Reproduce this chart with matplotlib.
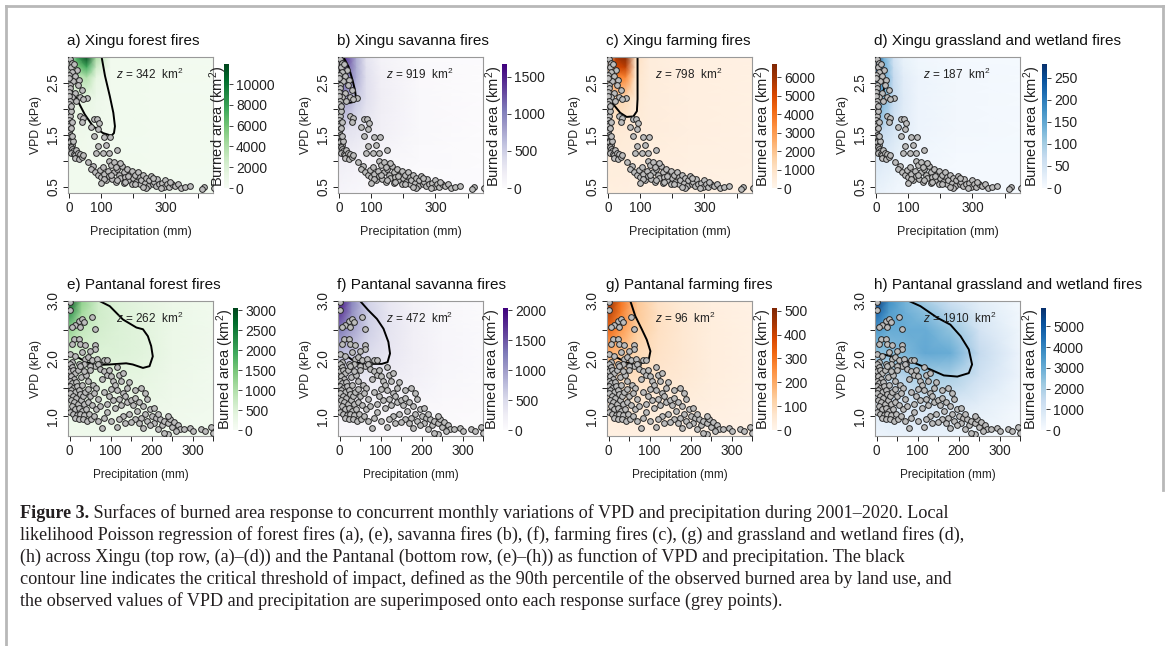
import numpy as np
import matplotlib.pyplot as plt
from matplotlib.lines import Line2D

plt.rcParams['font.family'] = ['Liberation Sans', 'DejaVu Sans']
plt.rcParams['mathtext.fontset'] = 'custom'
plt.rcParams['mathtext.rm'] = 'Liberation Sans'
plt.rcParams['mathtext.it'] = 'Liberation Sans:italic'

W, H = 1170, 646

# panel text
titles = ['a) Xingu forest fires', 'b) Xingu savanna fires', 'c) Xingu farming fires',
          'd) Xingu grassland and wetland fires', 'e) Pantanal forest fires',
          'f) Pantanal savanna fires', 'g) Pantanal farming fires',
          'h) Pantanal grassland and wetland fires']
z_values = [342, 919, 798, 187, 262, 472, 96, 1910]
cmaps = ['Greens', 'Purples', 'Oranges', 'Blues'] * 2
cbar_max = [11950, 1673, 6710, 281, 3058, 2040, 511, 5888]
cbar_ticks = [[0, 2000, 4000, 6000, 8000, 10000], [0, 500, 1000, 1500],
              [0, 1000, 2000, 3000, 4000, 5000, 6000], [0, 50, 100, 150, 200, 250],
              [0, 500, 1000, 1500, 2000, 2500, 3000], [0, 500, 1000, 1500, 2000],
              [0, 100, 200, 300, 400, 500], [0, 1000, 2000, 3000, 4000, 5000]]

# observed monthly points (precipitation mm, VPD kPa)
xingu_points = [
    (3, 2.95), (8, 2.88), (5, 2.80), (15, 2.85), (25, 2.75), (10, 2.70), (20, 2.62), (30, 2.55),
    (12, 2.52), (4, 2.45), (28, 2.45), (40, 2.35), (18, 2.30), (8, 2.22), (35, 2.22), (55, 2.20),
    (45, 2.18), (22, 2.15),
    (0, 2.65), (1, 2.58), (2, 2.40), (0, 2.32), (1, 2.25), (3, 2.15), (0, 2.08), (2, 2.00),
    (1, 1.92), (4, 1.85), (0, 1.78), (2, 1.72), (1, 1.66), (3, 1.60), (0, 1.55), (4, 1.50),
    (2, 1.45), (6, 1.40), (3, 1.35), (8, 1.30), (5, 1.26), (10, 1.22), (12, 1.18), (7, 1.15),
    (15, 1.12), (20, 1.10), (25, 1.08), (18, 1.05), (30, 1.03), (22, 1.20), (28, 1.15), (35, 1.12),
    (40, 1.08), (45, 1.10), (14, 1.38), (10, 1.48), (6, 1.62), (9, 1.75), (5, 1.95), (7, 2.05),
    (35, 1.85), (45, 1.82), (40, 1.75), (78, 1.80), (88, 1.80), (92, 1.72), (70, 1.65), (90, 1.60),
    (78, 1.48), (108, 1.45), (128, 1.45), (115, 1.30), (90, 1.28), (85, 1.15), (105, 1.15),
    (125, 1.15), (150, 1.20), (125, 1.00), (60, 0.98), (75, 0.90),
    (70, 0.85), (80, 0.78), (90, 0.72), (95, 0.82), (100, 0.68), (105, 0.88), (110, 0.75),
    (115, 0.62), (120, 0.80), (125, 0.70), (130, 0.92), (135, 0.65), (140, 0.98), (140, 0.78),
    (145, 0.60), (150, 0.85), (155, 0.72), (160, 0.66), (165, 0.90), (170, 0.58), (170, 0.78),
    (175, 0.68), (180, 0.85), (185, 0.62), (190, 0.74), (195, 0.55), (195, 0.80), (200, 0.66),
    (205, 0.72), (210, 0.60), (215, 0.78), (220, 0.55), (220, 0.68), (225, 0.62), (230, 0.72),
    (235, 0.58), (240, 0.66), (245, 0.52), (250, 0.62), (255, 0.70), (260, 0.56), (265, 0.60),
    (270, 0.52), (275, 0.64), (280, 0.55), (290, 0.58), (295, 0.50), (300, 0.62), (305, 0.55),
    (310, 0.50), (320, 0.56), (330, 0.52), (340, 0.55), (350, 0.48), (360, 0.50), (375, 0.52),
    (420, 0.50), (415, 0.46), (450, 0.48), (240, 0.48), (185, 0.70), (160, 0.95), (150, 0.62),
    (130, 0.72), (110, 0.65), (100, 0.58), (145, 0.88), (175, 0.60), (205, 0.56), (230, 0.50),
    (260, 0.66), (285, 0.48), (315, 0.60)]

pantanal_points = [
    (2, 2.98), (2, 2.84), (22, 2.66), (30, 2.69), (14, 2.58), (6, 2.55), (26, 2.55), (54, 2.72),
    (63, 2.52), (34, 2.63), (10, 2.34), (6, 2.26), (22, 2.34), (26, 2.26), (38, 2.23), (63, 2.23),
    (63, 2.17), (50, 2.14), (2, 2.08), (14, 2.05), (30, 2.11),
    (38, 2.00), (46, 2.03), (54, 1.97), (67, 2.00), (83, 1.97), (91, 1.97), (71, 1.91), (63, 1.88),
    (50, 1.88), (34, 1.91), (22, 1.91), (6, 1.94),
    (2, 1.90), (5, 1.85), (0, 1.78), (8, 1.80), (12, 1.75), (3, 1.70), (10, 1.65), (0, 1.62),
    (6, 1.58), (15, 1.60), (2, 1.52), (9, 1.50), (18, 1.52), (4, 1.45), (12, 1.42), (0, 1.40),
    (22, 1.45), (7, 1.35), (16, 1.32), (25, 1.38), (3, 1.28), (11, 1.25), (20, 1.22), (28, 1.28),
    (32, 1.35), (35, 1.22), (6, 1.18), (14, 1.12), (24, 1.15), (30, 1.10), (2, 1.08), (9, 1.05),
    (18, 1.02), (26, 1.05), (36, 1.02), (40, 1.12), (44, 1.25), (48, 1.05), (12, 0.98), (22, 0.95),
    (32, 0.96), (42, 0.92), (52, 0.95), (60, 1.00), (38, 1.42), (45, 1.48), (30, 1.55), (50, 1.35),
    (55, 1.20), (65, 1.12), (28, 1.68), (40, 1.72), (20, 1.80), (35, 1.78), (50, 1.80), (25, 1.88),
    (45, 1.62), (58, 1.55),
    (70, 1.90), (75, 1.82), (85, 1.78), (90, 1.72), (80, 1.65), (95, 1.80), (100, 1.70),
    (105, 1.62), (110, 1.55), (100, 1.48), (85, 1.42), (120, 1.72), (125, 1.62), (115, 1.45),
    (130, 1.40), (140, 1.50), (135, 1.35), (120, 1.30), (105, 1.28), (90, 1.22), (75, 1.18),
    (70, 1.30), (65, 1.50), (110, 1.15), (125, 1.20), (140, 1.25), (150, 1.28), (160, 1.32),
    (155, 1.20), (170, 1.25), (165, 1.10), (180, 1.18), (185, 1.05), (175, 0.98), (195, 1.12),
    (200, 1.00), (190, 0.92), (210, 0.98), (205, 0.88), (220, 0.95), (225, 0.85), (230, 0.92),
    (240, 0.88), (245, 0.95), (250, 0.82), (255, 0.90), (265, 0.85), (270, 0.78), (260, 0.75),
    (240, 0.70), (280, 0.78), (295, 0.80), (300, 0.75), (320, 0.78), (330, 0.75), (345, 0.82),
    (350, 0.72), (240, 1.00), (215, 1.05), (145, 1.05), (130, 1.00), (120, 0.95), (100, 0.92),
    (85, 0.98), (90, 1.08), (70, 0.92), (78, 0.80), (160, 0.95), (170, 0.88), (150, 0.90),
    (135, 0.88), (115, 0.82), (195, 0.85), (180, 0.80), (215, 0.78), (230, 0.72), (95, 1.35),
    (60, 1.40), (160, 1.45), (145, 1.60), (130, 1.75), (115, 1.85), (190, 1.30), (205, 1.15),
    (185, 1.40), (175, 1.50)]

# response surfaces (km2) on coarse grids, rows = VPD nodes, cols = precip nodes
xingu_precip_nodes = [-3, 25, 55, 85, 130, 250, 448]
xingu_vpd_nodes = [0.38, 1.0, 1.6, 2.2, 2.6, 2.8, 2.99]
pantanal_precip_nodes = [-4, 30, 70, 120, 180, 250, 350]
pantanal_vpd_nodes = [0.66, 1.2, 1.7, 2.1, 2.5, 2.8, 3.0]

surf_a = [[450, 480, 480, 460, 440, 400, 350],
          [520, 560, 560, 540, 500, 440, 380],
          [650, 750, 700, 600, 520, 450, 380],
          [900, 1300, 1300, 800, 550, 450, 380],
          [1000, 3000, 3800, 1400, 550, 450, 370],
          [1100, 5200, 7600, 2600, 550, 440, 360],
          [1300, 8000, 11800, 4000, 550, 430, 350]]
surf_b = [[100, 80, 60, 40, 20, 10, 0],
          [200, 180, 150, 120, 80, 30, 0],
          [350, 330, 300, 250, 180, 50, 0],
          [900, 800, 550, 350, 200, 50, 0],
          [1300, 1100, 700, 350, 180, 40, 0],
          [1500, 1200, 700, 330, 150, 30, 0],
          [1650, 1300, 700, 300, 130, 20, 0]]
surf_c = [[350, 350, 330, 300, 280, 250, 200],
          [450, 450, 430, 400, 350, 300, 250],
          [600, 650, 600, 500, 420, 330, 260],
          [900, 1500, 1300, 700, 450, 330, 260],
          [1300, 3500, 3500, 900, 450, 320, 250],
          [1700, 5000, 5500, 1000, 440, 310, 240],
          [2000, 6000, 6600, 1100, 430, 300, 230]]
surf_d = [[20, 15, 10, 8, 5, 5, 5],
          [40, 35, 25, 15, 10, 5, 5],
          [80, 70, 50, 30, 15, 8, 5],
          [200, 130, 70, 35, 15, 8, 5],
          [260, 150, 70, 30, 15, 8, 5],
          [270, 140, 60, 25, 12, 6, 5],
          [280, 130, 50, 20, 10, 5, 5]]
surf_e = [[150, 160, 170, 160, 150, 130, 100],
          [220, 240, 260, 260, 240, 180, 120],
          [350, 380, 400, 400, 350, 220, 140],
          [600, 550, 500, 480, 420, 250, 150],
          [1300, 800, 600, 500, 420, 250, 150],
          [2300, 1100, 650, 500, 400, 230, 140],
          [3000, 1300, 650, 480, 380, 220, 130]]
surf_f = [[60, 60, 50, 40, 30, 20, 10],
          [150, 150, 140, 120, 90, 50, 20],
          [350, 350, 330, 280, 200, 100, 40],
          [800, 650, 500, 350, 230, 110, 40],
          [1300, 950, 600, 380, 220, 100, 40],
          [1750, 1100, 600, 350, 200, 90, 30],
          [2000, 1200, 550, 330, 180, 80, 30]]
surf_g = [[20, 20, 20, 18, 15, 12, 10],
          [40, 45, 45, 40, 35, 25, 15],
          [90, 90, 80, 65, 50, 30, 18],
          [200, 150, 100, 75, 55, 30, 18],
          [330, 230, 130, 80, 55, 30, 18],
          [430, 280, 140, 80, 50, 28, 16],
          [500, 300, 140, 75, 45, 25, 15]]
surf_h = [[300, 350, 400, 400, 350, 250, 100],
          [700, 800, 900, 1000, 900, 600, 200],
          [1400, 1600, 1800, 2100, 2000, 1200, 300],
          [2400, 2500, 2700, 3100, 3000, 1500, 300],
          [3500, 3000, 3000, 3000, 2400, 1100, 250],
          [4800, 3400, 2900, 2500, 1700, 800, 200],
          [5800, 3700, 2800, 2000, 1200, 600, 150]]
surfaces = [surf_a, surf_b, surf_c, surf_d, surf_e, surf_f, surf_g, surf_h]

# 90th percentile contour lines
contour_a = [(101, 3.01), (112, 2.63), (127, 2.24), (138, 1.92), (143, 1.66), (140, 1.53),
             (132, 1.48), (106, 1.53), (75, 1.66), (49, 1.89), (28, 2.14), (13, 2.31),
             (0, 2.38), (-3, 2.40)]
contour_b = [(12, 3.01), (30, 2.80), (42, 2.55), (50, 2.35), (53, 2.20), (48, 2.13), (33, 2.11),
             (18, 2.15), (7, 2.28), (2, 2.46), (0, 2.70), (-1, 3.01)]
contour_c = [(92, 3.01), (92, 2.60), (92, 2.18), (90, 1.95), (79, 1.85), (58, 1.84), (38, 1.92),
             (17, 2.08), (4, 2.21), (-3, 2.25)]
contour_d = [(-3, 2.75), (8, 2.78), (18, 2.70), (25, 2.55), (26, 2.40), (20, 2.28), (10, 2.24),
             (-3, 2.26)]
contour_e = [(73, 3.0), (98, 2.91), (130, 2.68), (163, 2.54), (179, 2.51), (191, 2.39),
             (199, 2.22), (203, 2.04), (195, 1.87), (179, 1.84), (154, 1.90), (138, 1.92),
             (98, 1.90), (65, 1.89), (41, 1.94), (16, 2.04), (-4, 2.10)]
contour_f = [(50, 3.0), (70, 2.84), (91, 2.69), (107, 2.52), (119, 2.29), (123, 2.09),
             (117, 1.94), (103, 1.91), (79, 1.91), (58, 1.91), (38, 1.94), (21, 2.03),
             (5, 2.09), (-4, 2.10)]
contour_g = [(53, 3.0), (65, 2.74), (81, 2.51), (93, 2.33), (102, 2.13), (98, 1.99), (85, 1.93),
             (65, 1.90), (45, 1.93), (20, 2.02), (4, 2.07), (-4, 2.08)]
contour_h = [(79, 3.0), (107, 2.91), (148, 2.71), (180, 2.59), (205, 2.39), (225, 2.16),
             (233, 1.90), (225, 1.75), (197, 1.69), (164, 1.71), (132, 1.81), (91, 1.93),
             (50, 2.02), (18, 2.07), (-4, 2.08)]
contours = [contour_a, contour_b, contour_c, contour_d, contour_e, contour_f, contour_g, contour_h]

caption_lines = [
    ' Surfaces of burned area response to concurrent monthly variations of VPD and precipitation during 2001\u20132020. Local',
    'likelihood Poisson regression of forest fires (a), (e), savanna fires (b), (f), farming fires (c), (g) and grassland and wetland fires (d),',
    '(h) across Xingu (top row, (a)\u2013(d)) and the Pantanal (bottom row, (e)\u2013(h)) as function of VPD and precipitation. The black',
    'contour line indicates the critical threshold of impact, defined as the 90th percentile of the observed burned area by land use, and',
    'the observed values of VPD and precipitation are superimposed onto each response surface (grey points).']


def rect(l, t, r, b):
    return [l / W, 1 - b / H, (r - l) / W, (b - t) / H]


fig = plt.figure(figsize=(W / 100, H / 100), dpi=100)

ax_lefts = [68, 338, 607, 875]
cbar_lefts = [224, 502, 772, 1042, 233, 503, 772, 1041]
label_x = [218, 494, 763, 1032, 225, 492, 763, 1031]

for i in range(8):
    top = i < 4
    left = ax_lefts[i % 4]
    if top:
        t, b = 57, 193
        pts = np.array(xingu_points)
        gx, gy = xingu_precip_nodes, xingu_vpd_nodes
        xlim, ylim = (-3, 448), (0.38, 2.99)
        cb_t, cb_b = 64, 188
        xlabel_size = 9
    else:
        t, b = 301, 436
        pts = np.array(pantanal_points)
        gx, gy = pantanal_precip_nodes, pantanal_vpd_nodes
        xlim, ylim = (-4, 350), (0.66, 3.0)
        cb_t, cb_b = 308, 430
        xlabel_size = 8.5
    ax = fig.add_axes(rect(left, t, left + 145, b))
    mesh = ax.pcolormesh(gx, gy, np.array(surfaces[i], dtype=float), shading='gouraud',
                         cmap=cmaps[i], vmin=0, vmax=cbar_max[i], zorder=1)
    cx, cy = zip(*contours[i])
    ax.plot(cx, cy, color='black', lw=1.4, zorder=2)
    ax.scatter(pts[:, 0], pts[:, 1], s=17, facecolor='#bcbcbc', edgecolor='#262626',
               linewidth=0.7, zorder=3)
    ax.set_xlim(xlim)
    ax.set_ylim(ylim)
    if top:
        ax.set_xticks([0, 100, 200, 300, 400])
        ax.set_xticklabels(['0', '100', '', '300', ''])
        ax.set_yticks([0.5, 1.0, 1.5, 2.0, 2.5])
        ax.set_yticklabels(['0.5', '', '1.5', '', '2.5'], rotation=90, va='center')
    else:
        ax.set_xticks([0, 50, 100, 150, 200, 250, 300, 350])
        ax.set_xticklabels(['0', '', '100', '', '200', '', '300', ''])
        ax.set_yticks([1.0, 1.5, 2.0, 2.5, 3.0])
        ax.set_yticklabels(['1.0', '', '2.0', '', '3.0'], rotation=90, va='center')
    ax.tick_params(direction='out', length=3.5, width=0.7, labelsize=9.8, pad=2,
                   colors='#222222')
    for s in ax.spines.values():
        s.set_color('#999999')
        s.set_linewidth(0.8)
    ax.set_xlabel('Precipitation (mm)', fontsize=xlabel_size, labelpad=8, color='#222222')
    ax.set_ylabel('VPD (kPa)', fontsize=8.8, labelpad=3, color='#222222')
    ax.set_title(titles[i], loc='left', fontsize=11, pad=9, color='#111111', x=-0.01)
    ax.text(0.33, 0.87, '$z$ = %d  km$^2$' % z_values[i], transform=ax.transAxes,
            fontsize=8.5, color='#222222', zorder=4, ha='left', va='center')

    cax = fig.add_axes(rect(cbar_lefts[i], cb_t, cbar_lefts[i] + 5, cb_b))
    cb = fig.colorbar(mesh, cax=cax, ticks=cbar_ticks[i])
    cb.outline.set_visible(False)
    cax.tick_params(length=3, width=0.6, labelsize=10, pad=2, colors='#222222')
    fig.text(label_x[i] / W, 1 - (cb_t + cb_b) / 2 / H, 'Burned area (km$^2$)', rotation=90,
             ha='center', va='center', fontsize=10.5, color='#222222')

# caption
renderer = fig.canvas.get_renderer()
cap_y = [513, 535, 557, 579, 601]
cap_size = 13.05
bold = fig.text(20 / W, 1 - cap_y[0] / H, 'Figure 3.', fontsize=cap_size, fontweight='bold',
                family='Liberation Serif', va='center', color='#231f20')
bx = bold.get_window_extent(renderer).x1
fig.text(bx / W, 1 - cap_y[0] / H, caption_lines[0], fontsize=cap_size,
         family='Liberation Serif', va='center', color='#231f20')
for k in range(1, 5):
    fig.text(20 / W, 1 - cap_y[k] / H, caption_lines[k], fontsize=cap_size,
             family='Liberation Serif', va='center', color='#231f20')

# page frame
for (x0, y0, x1, y1) in [(6, 6, 6, 646), (6, 6, 1163, 6), (1163, 6, 1163, 490)]:
    fig.add_artist(Line2D([x0 / W, x1 / W], [1 - y0 / H, 1 - y1 / H], color='#b8b8b8', lw=2))

fig.savefig('out.png', dpi=100)
